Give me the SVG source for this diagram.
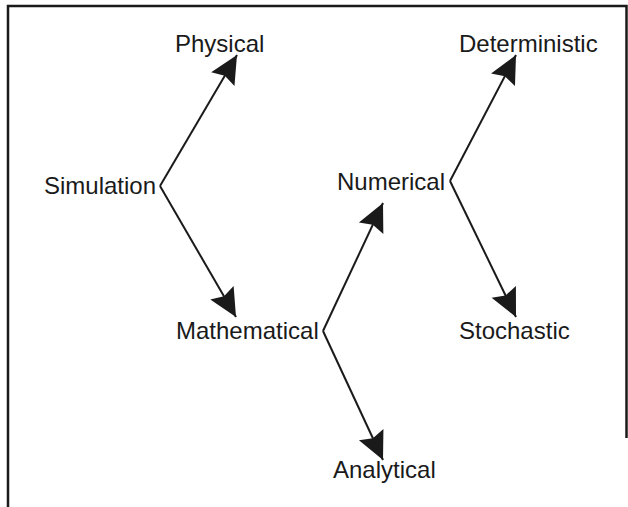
<svg xmlns="http://www.w3.org/2000/svg" width="628" height="507" viewBox="0 0 628 507">
<style>
.lbl{font-family:"Liberation Sans",Arial,sans-serif;font-size:24px;fill:#1a1a1a}
.edge{stroke:#1a1a1a;stroke-width:2;fill:none;marker-end:url(#ah)}
.frame{stroke:#1a1a1a;stroke-width:2.5;fill:none}
</style>
<defs>
<marker id="ah" markerUnits="userSpaceOnUse" markerWidth="30" markerHeight="30" viewBox="-1 -15 30 30" refX="28" refY="0" orient="auto">
<path d="M28 0 L0 -13.5 L4 0 L0 13.5 Z" fill="#1a1a1a"/>
</marker>
</defs>
<path class="frame" d="M8 507 V6 H626.5 V438"/>
<g id="connectors">
<line class="edge" x1="160" y1="186" x2="237" y2="55"/>
<line class="edge" x1="160" y1="186" x2="236" y2="317"/>
<line class="edge" x1="323" y1="331" x2="383" y2="203"/>
<line class="edge" x1="323" y1="331" x2="383" y2="460"/>
<line class="edge" x1="450" y1="181" x2="516" y2="55"/>
<line class="edge" x1="450" y1="181" x2="516" y2="317"/>
</g>
<g id="simulation"><text class="lbl" x="44" y="194">Simulation</text></g>
<g id="physical"><text class="lbl" x="175" y="52">Physical</text></g>
<g id="mathematical"><text class="lbl" x="176" y="339">Mathematical</text></g>
<g id="numerical"><text class="lbl" x="337" y="190">Numerical</text></g>
<g id="analytical"><text class="lbl" x="333" y="478">Analytical</text></g>
<g id="deterministic"><text class="lbl" x="459" y="52">Deterministic</text></g>
<g id="stochastic"><text class="lbl" x="459" y="339">Stochastic</text></g>
</svg>
